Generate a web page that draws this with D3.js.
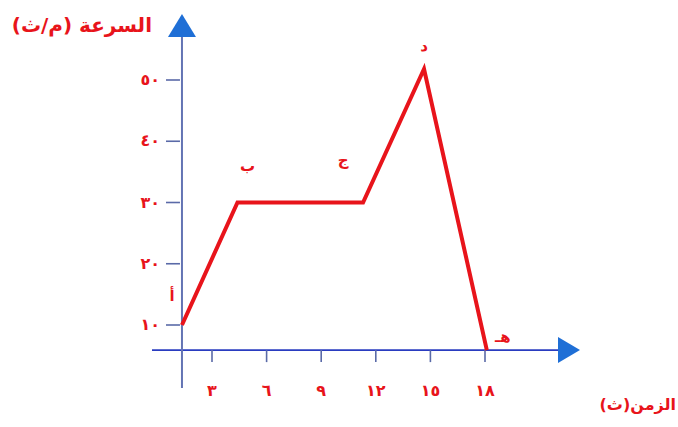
<!DOCTYPE html>
<html>
<head>
<meta charset="utf-8">
<script src="https://cdn.jsdelivr.net/npm/d3@7"></script>
<style>
body { margin: 0; background: #fff; }
text { font-family: "DejaVu Sans", "Noto Sans", sans-serif; font-weight: bold; }
</style>
</head>
<body>
<script>
// time (s) and speed (m/s) of the corner points
var pointNames = ["أ", "ب", "ج", "د", "هـ"];
var times = [1.35, 4.4, 11.3, 14.65, 18.1];
var speeds = [10, 30, 30, 51.8, 5.9];

var xTicks = [3, 6, 9, 12, 15, 18];
var xTickLabels = ["٣", "٦", "٩", "١٢", "١٥", "١٨"];
var yTicks = [10, 20, 30, 40, 50];
var yTickLabels = ["١٠", "٢٠", "٣٠", "٤٠", "٥٠"];

var width = 678, height = 427;
var red = "#e8141b";

var svg = d3.select("body").append("svg")
    .attr("width", width)
    .attr("height", height);

var x = d3.scaleLinear().domain([3, 18]).range([212, 485]);
var y = d3.scaleLinear().domain([10, 50]).range([325, 80]);

var x0 = x(times[0]);     // y axis position
var y0 = y(5.9);          // x axis position

// x axis
svg.append("line")
    .attr("x1", 152).attr("x2", 562)
    .attr("y1", y0).attr("y2", y0)
    .attr("stroke", "#2a3cc0").attr("stroke-width", 1.6);
svg.append("path")
    .attr("d", "M558," + (y0 - 13) + "L580," + y0 + "L558," + (y0 + 13) + "Z")
    .attr("fill", "#1f6fd6");

// y axis
svg.append("line")
    .attr("x1", x0).attr("x2", x0)
    .attr("y1", 388).attr("y2", 34)
    .attr("stroke", "#6474b4").attr("stroke-width", 2);
svg.append("path")
    .attr("d", "M" + (x0 - 14) + ",37L" + x0 + ",14L" + (x0 + 14) + ",37Z")
    .attr("fill", "#1f6fd6");

// ticks
svg.selectAll(".xtick").data(xTicks).enter().append("line")
    .attr("class", "xtick")
    .attr("x1", d => x(d)).attr("x2", d => x(d))
    .attr("y1", y0).attr("y2", y0 + 12)
    .attr("stroke", "#5a6aa8").attr("stroke-width", 1.6);
svg.selectAll(".xlab").data(xTicks).enter().append("text")
    .attr("class", "xlab")
    .attr("x", d => x(d)).attr("y", 396)
    .attr("text-anchor", "middle")
    .attr("font-size", 16).attr("fill", red)
    .text((d, i) => xTickLabels[i]);

svg.selectAll(".ytick").data(yTicks).enter().append("line")
    .attr("class", "ytick")
    .attr("x1", x0 - 16).attr("x2", x0 - 2)
    .attr("y1", d => y(d)).attr("y2", d => y(d))
    .attr("stroke", "#5a6aa8").attr("stroke-width", 1.6);
svg.selectAll(".ylab").data(yTicks).enter().append("text")
    .attr("class", "ylab")
    .attr("x", 160).attr("y", d => y(d) + 5)
    .attr("text-anchor", "end")
    .attr("font-size", 16).attr("fill", red)
    .text((d, i) => yTickLabels[i]);

// the graph line
var line = d3.line()
    .x((d, i) => x(times[i]))
    .y(d => y(d));
svg.append("path")
    .attr("d", line(speeds))
    .attr("fill", "none")
    .attr("stroke", red)
    .attr("stroke-width", 4)
    .attr("stroke-linejoin", "miter");

// point labels
var labelDx = [-10, 10, -20, 0, 16];
var labelDy = [-24, -32, -38, -18, -8];
svg.selectAll(".plab").data(pointNames).enter().append("text")
    .attr("class", "plab")
    .attr("x", (d, i) => x(times[i]) + labelDx[i])
    .attr("y", (d, i) => y(speeds[i]) + labelDy[i])
    .attr("text-anchor", "middle")
    .attr("font-size", 15).attr("fill", red)
    .text(d => d);

// axis titles (rtl: "start" is the right edge)
svg.append("text")
    .attr("x", 152).attr("y", 32)
    .attr("text-anchor", "start").attr("direction", "rtl")
    .attr("font-size", 20).attr("fill", red)
    .text("السرعة (م/ث)");
svg.append("text")
    .attr("x", 676).attr("y", 410)
    .attr("text-anchor", "start").attr("direction", "rtl")
    .attr("font-size", 16).attr("fill", red)
    .text("الزمن(ث)");
</script>
</body>
</html>
